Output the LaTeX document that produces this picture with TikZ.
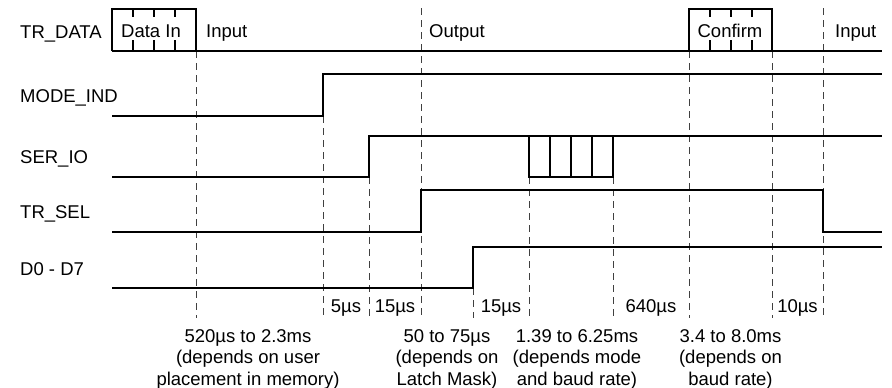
\documentclass[tikz,border=0pt]{standalone}
\usepackage{fontspec}
\setmainfont{Liberation Sans}

\begin{document}
\begin{tikzpicture}[x=1pt,y=-1pt,
    sig/.style={line width=2pt,line join=miter},
    guide/.style={line width=0.9pt,black!75,dash pattern=on 7pt off 5pt},
    lbl/.style={font=\fontsize{18.5}{21.5}\selectfont,inner sep=0pt},
    note/.style={lbl,align=center,anchor=base}]

    % fix the page size
    \useasboundingbox (0,0) rectangle (892,388);

    % dashed timing guides
    \foreach \x/\ytop in {196/51,323/116,369/177,421/8,473/288,529/177,613/177,689/51,772/51,823/8}
        \draw[guide] (\x,\ytop) -- (\x,318);

    % signal names
    \node[lbl,anchor=base west] (trdata) at (20,38) {TR\_DATA};
    \node[lbl,anchor=base west] (modeind) at (20,102) {MODE\_IND};
    \node[lbl,anchor=base west] (serio) at (20,163) {SER\_IO};
    \node[lbl,anchor=base west] (trsel) at (20,218) {TR\_SEL};
    \node[lbl,anchor=base west] (dbus) at (20,275) {D0 - D7};

    % TR_DATA
    \draw[sig] (112,51) -- (882,51);
    \draw[sig] (112,51) |- (196,9) -- (196,51);
    \draw[sig] (689,51) |- (772,9) -- (772,51);
    \foreach \x in {133,154,175,710,731,752} {
        \draw[sig] (\x,9) -- (\x,17);
        \draw[sig] (\x,40) -- (\x,51);
    }
    \node[lbl,anchor=base] (datain) at (151,37) {Data In};
    \node[lbl,anchor=base] (confirm) at (730,37) {Confirm};
    \node[lbl,anchor=base west] (input1) at (206,37) {Input};
    \node[lbl,anchor=base west] (output) at (429,37) {Output};
    \node[lbl,anchor=base west] (input2) at (835,37) {Input};

    % MODE_IND
    \draw[sig] (112,116) -- (323,116) -- (323,74) -- (882,74);

    % SER_IO
    \draw[sig] (112,177) -- (369,177) -- (369,136) -- (882,136);
    \draw[sig] (529,136) rectangle (613,177);
    \foreach \x in {550,571,592}
        \draw[sig] (\x,136) -- (\x,177);

    % TR_SEL
    \draw[sig] (112,232) -- (421,232) -- (421,190) -- (823,190) -- (823,232) -- (882,232);

    % D0 - D7
    \draw[sig] (112,288) -- (473,288) -- (473,247) -- (882,247);

    % delays
    \foreach \x/\t/\n in {346/5µs/da,395/15µs/db,501/15µs/dc,651/640µs/dd,797.5/10µs/de}
        \node[lbl,anchor=base] (\n) at (\x,312) {\t};

    % notes (anchored on the last line)
    \node[note] (noteA) at (248,385) {520µs to 2.3ms\\(depends on user\\placement in memory)};
    \node[note] (noteB) at (447,385) {50 to 75µs\\(depends on\\Latch Mask)};
    \node[note] (noteC) at (577,385) {1.39 to 6.25ms\\(depends mode\\and baud rate)};
    \node[note] (noteD) at (730.5,385) {3.4 to 8.0ms\\(depends on\\baud rate)};

\end{tikzpicture}
\end{document}
